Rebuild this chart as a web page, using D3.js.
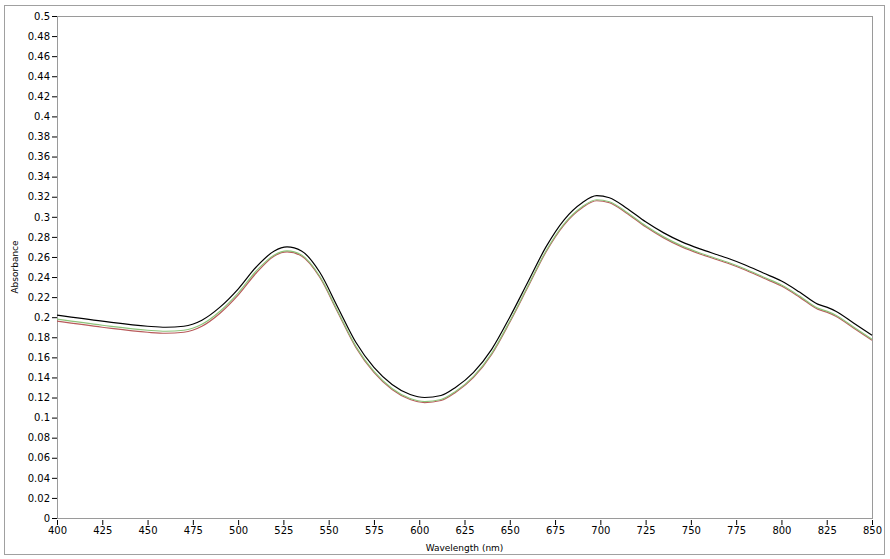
<!DOCTYPE html>
<html>
<head>
<meta charset="utf-8">
<script src="https://cdn.jsdelivr.net/npm/d3@7"></script>
<style>
  body { margin: 0; background: #fff; }
  text { font-family: "DejaVu Sans", Verdana, sans-serif; font-size: 10px; fill: #000; }
</style>
</head>
<body>
<div id="chart"></div>
<script>
// wavelengths (nm) where the curves were read
const wavelengths = [400, 425, 450, 460, 470, 480, 490, 500, 510, 520, 527, 535, 545, 555, 565, 575, 585, 595, 603, 612, 620, 630, 640, 650, 660, 670, 680, 690, 698, 705, 715, 725, 735, 745, 755, 765, 770, 780, 790, 800, 810, 820, 825, 830, 840, 850];

const blackSeries = [0.202, 0.196, 0.191, 0.190, 0.191, 0.197, 0.210, 0.228, 0.250, 0.266, 0.270, 0.266, 0.245, 0.210, 0.175, 0.150, 0.133, 0.123, 0.120, 0.122, 0.130, 0.145, 0.168, 0.200, 0.235, 0.270, 0.297, 0.314, 0.321, 0.319, 0.308, 0.295, 0.284, 0.275, 0.268, 0.262, 0.259, 0.252, 0.244, 0.236, 0.225, 0.213, 0.210, 0.206, 0.194, 0.182];
const greenSeries = [0.198, 0.192, 0.187, 0.186, 0.187, 0.193, 0.206, 0.224, 0.246, 0.262, 0.266, 0.262, 0.241, 0.206, 0.171, 0.146, 0.129, 0.119, 0.116, 0.118, 0.126, 0.141, 0.164, 0.196, 0.231, 0.266, 0.293, 0.310, 0.317, 0.315, 0.304, 0.291, 0.280, 0.271, 0.264, 0.258, 0.255, 0.248, 0.240, 0.232, 0.221, 0.209, 0.206, 0.202, 0.190, 0.178];
const redSeries = [0.196, 0.190, 0.185, 0.184, 0.185, 0.191, 0.204, 0.222, 0.244, 0.261, 0.265, 0.261, 0.240, 0.205, 0.170, 0.145, 0.128, 0.118, 0.115, 0.117, 0.125, 0.140, 0.163, 0.195, 0.230, 0.265, 0.292, 0.309, 0.316, 0.314, 0.303, 0.290, 0.279, 0.270, 0.263, 0.257, 0.254, 0.247, 0.239, 0.231, 0.220, 0.208, 0.205, 0.201, 0.189, 0.177];

const xTicks = [400, 425, 450, 475, 500, 525, 550, 575, 600, 625, 650, 675, 700, 725, 750, 775, 800, 825, 850];
const yTicks = [0, 0.02, 0.04, 0.06, 0.08, 0.1, 0.12, 0.14, 0.16, 0.18, 0.2, 0.22, 0.24, 0.26, 0.28, 0.3, 0.32, 0.34, 0.36, 0.38, 0.4, 0.42, 0.44, 0.46, 0.48, 0.5];

const w = 890;
const h = 559;
const plotLeft = 57, plotRight = 872, plotTop = 16, plotBottom = 518;

const svg = d3.select("#chart")
  .append("svg")
  .attr("width", w)
  .attr("height", h);

// outer frame
svg.append("rect")
  .attr("x", 4.5).attr("y", 5.5)
  .attr("width", 880).attr("height", 549)
  .attr("fill", "none")
  .attr("stroke", "#a0a0a0");

const xScale = d3.scaleLinear().domain([400, 850]).range([plotLeft, plotRight]);
const yScale = d3.scaleLinear().domain([0, 0.5]).range([plotBottom, plotTop]);

// plot border
svg.append("rect")
  .attr("x", plotLeft + 0.5).attr("y", plotTop + 0.5)
  .attr("width", plotRight - plotLeft).attr("height", plotBottom - plotTop)
  .attr("fill", "#fff")
  .attr("stroke", "#9a9a9a");

const xAxis = d3.axisBottom(xScale).tickValues(xTicks).tickSize(5).tickPadding(2).tickFormat(d3.format("d"));
const yAxis = d3.axisLeft(yScale).tickValues(yTicks).tickSize(5).tickPadding(2).tickFormat(d => d === 0 ? "0" : String(+d.toFixed(2)));

svg.append("g")
  .attr("transform", "translate(0, " + (plotBottom + 2) + ")")
  .call(xAxis)
  .call(g => g.select(".domain").remove())
  .call(g => g.selectAll("line").attr("stroke", "#000"));

svg.append("g")
  .attr("transform", "translate(" + plotLeft + ", 0)")
  .call(yAxis)
  .call(g => g.select(".domain").remove())
  .call(g => g.selectAll("line").attr("stroke", "#000"));

svg.selectAll(".tick text").style("font-size", "10px").attr("fill", "#000");

// axis titles
svg.append("text")
  .attr("x", (plotLeft + plotRight) / 2)
  .attr("y", 551)
  .attr("text-anchor", "middle")
  .style("font-size", "9px")
  .text("Wavelength (nm)");

svg.append("text")
  .attr("transform", "translate(18, " + ((plotTop + plotBottom) / 2) + ") rotate(-90)")
  .attr("text-anchor", "middle")
  .style("font-size", "9px")
  .text("Absorbance");

// curves
const line = d3.line()
  .x((d, i) => xScale(wavelengths[i]))
  .y(d => yScale(d))
  .curve(d3.curveMonotoneX);

const series = [
  { values: redSeries, color: "#b85a5a" },
  { values: greenSeries, color: "#8cc47a" },
  { values: blackSeries, color: "#000" }
];

svg.append("g")
  .selectAll("path")
  .data(series)
  .enter()
  .append("path")
  .attr("d", d => line(d.values))
  .attr("fill", "none")
  .attr("stroke", d => d.color)
  .attr("stroke-width", 1.2);
</script>
</body>
</html>
